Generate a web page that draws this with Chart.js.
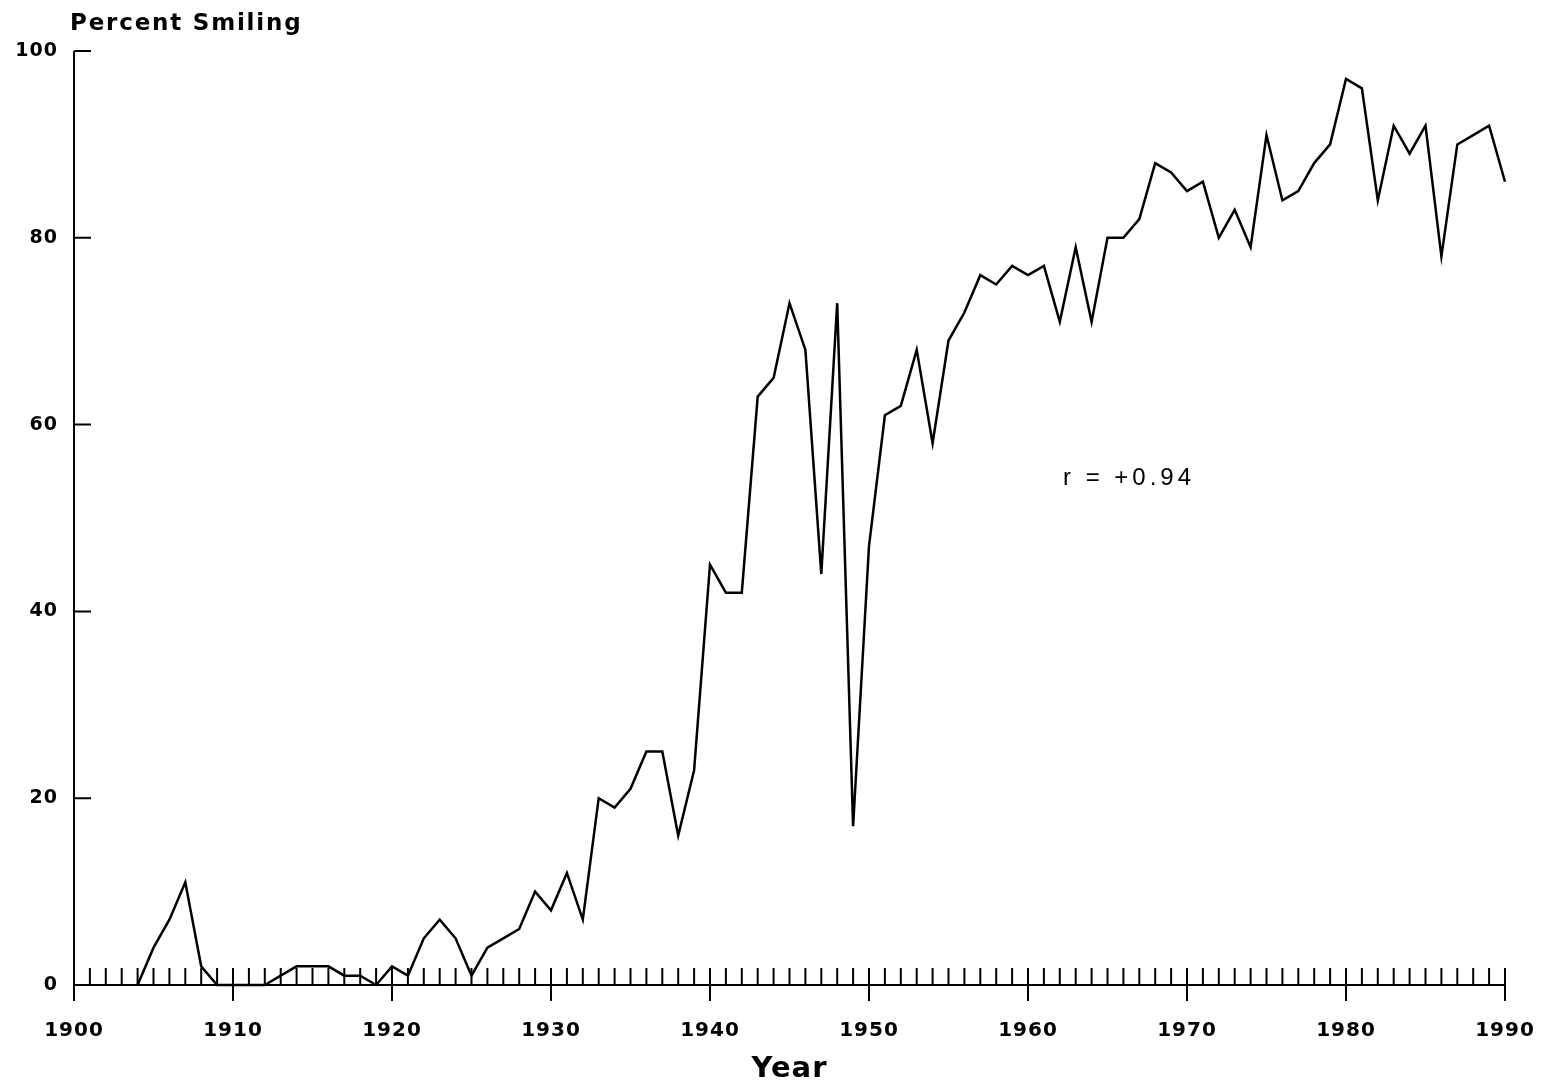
<!DOCTYPE html>
<html>
<head>
<meta charset="utf-8">
<title>Percent Smiling</title>
<script src="https://cdn.jsdelivr.net/npm/chart.js@4/dist/chart.umd.min.js"></script>
<style>
  html, body { margin: 0; padding: 0; background: #fff; }
  #wrap { width: 1549px; height: 1088px; }
</style>
</head>
<body>
<div id="wrap"><canvas id="smileChart" width="1549" height="1088"></canvas></div>
<script>
// ===== DATA =====
const years = [
  1904, 1905, 1906, 1907, 1908, 1909, 1910, 1911, 1912, 1913,
  1914, 1915, 1916, 1917, 1918, 1919, 1920, 1921, 1922, 1923,
  1924, 1925, 1926, 1927, 1928, 1929, 1930, 1931, 1932, 1933,
  1934, 1935, 1936, 1937, 1938, 1939, 1940, 1941, 1942, 1943,
  1944, 1945, 1946, 1947, 1948, 1949, 1950, 1951, 1952, 1953,
  1954, 1955, 1956, 1957, 1958, 1959, 1960, 1961, 1962, 1963,
  1964, 1965, 1966, 1967, 1968, 1969, 1970, 1971, 1972, 1973,
  1974, 1975, 1976, 1977, 1978, 1979, 1980, 1981, 1982, 1983,
  1984, 1985, 1986, 1987, 1988, 1989, 1990
];

const percentSmiling = [
  0, 4, 7, 11, 2, 0, 0, 0, 0, 1,
  2, 2, 2, 1, 1, 0, 2, 1, 5, 7,
  5, 1, 4, 5, 6, 10, 8, 12, 7, 20,
  19, 21, 25, 25, 16, 23, 45, 42, 42, 63,
  65, 73, 68, 44, 73, 17, 47, 61, 62, 68,
  58, 69, 72, 76, 75, 77, 76, 77, 71, 79,
  71, 80, 80, 82, 88, 87, 85, 86, 80, 83,
  79, 91, 84, 85, 88, 90, 97, 96, 84, 92,
  89, 92, 78, 90, 91, 92, 86
];

const xTicks = [1900, 1910, 1920, 1930, 1940, 1950, 1960, 1970, 1980, 1990];
const yTicks = [0, 20, 40, 60, 80, 100];

const yAxisTitle = "Percent Smiling";
const xAxisTitle = "Year";
const corrText = "r = +0.94";
const corrAt = { x: 1962.2, y: 53.5 };

const boldFont = "'DejaVu Sans', 'Liberation Sans', sans-serif";

// ===== AXES AND TICKS (drawn from the scales) =====
const axisPlugin = {
  id: "oldAxes",
  beforeDraw(chart) {
    chart.ctx.letterSpacing = "1px";
  },
  beforeDatasetsDraw(chart) {
    // y labels get a wider spacing than the x labels; both are already drawn here
    chart.ctx.letterSpacing = "0px";
  },
  afterDatasetsDraw(chart) {
    const ctx = chart.ctx;
    const xs = chart.scales.x;
    const ys = chart.scales.y;
    const x0 = xs.getPixelForValue(1900);
    const x1 = xs.getPixelForValue(1990);
    const y0 = ys.getPixelForValue(0);
    const y1 = ys.getPixelForValue(100);

    ctx.save();
    ctx.strokeStyle = "#000";
    ctx.lineWidth = 2;
    ctx.beginPath();
    // y axis
    ctx.moveTo(x0, y0 + 16);
    ctx.lineTo(x0, y1);
    // x axis
    ctx.moveTo(x0, y0);
    ctx.lineTo(x1, y0);

    // yearly ticks up, decade ticks down as well
    for (let yr = 1901; yr <= 1990; yr++) {
      const px = xs.getPixelForValue(yr);
      const major = yr % 10 === 0;
      ctx.moveTo(px, y0 - 17);
      ctx.lineTo(px, major ? y0 + 16 : y0);
    }

    // y ticks pointing right
    yTicks.forEach(v => {
      if (v === 0) return;
      const py = ys.getPixelForValue(v);
      ctx.moveTo(x0, py);
      ctx.lineTo(x0 + 17, py);
    });
    ctx.stroke();

    // titles
    ctx.fillStyle = "#000";
    ctx.letterSpacing = "1.8px";
    ctx.font = "bold 23px " + boldFont;
    ctx.textAlign = "left";
    ctx.textBaseline = "alphabetic";
    ctx.fillText(yAxisTitle, x0 - 4, 30);

    ctx.letterSpacing = "4px";
    ctx.font = "24px 'Liberation Sans', Arial, sans-serif";
    ctx.fillText(corrText, xs.getPixelForValue(corrAt.x), ys.getPixelForValue(corrAt.y));
    ctx.restore();
  }
};

// ===== CHART =====
const ctx = document.getElementById("smileChart").getContext("2d");

const smileChart = new Chart(ctx, {
  type: "line",
  data: {
    datasets: [{
      label: yAxisTitle,
      data: years.map((yr, i) => ({ x: yr, y: percentSmiling[i] })),
      borderColor: "#000",
      borderWidth: 2.5,
      pointRadius: 0,
      tension: 0,
      fill: false,
      clip: false
    }]
  },
  options: {
    responsive: false,
    animation: false,
    events: [],
    layout: { padding: { top: 51, right: 44, left: 0, bottom: 0 } },
    plugins: {
      legend: { display: false },
      tooltip: { enabled: false },
      title: { display: false }
    },
    scales: {
      x: {
        type: "linear",
        min: 1900,
        max: 1990,
        afterFit: s => { s.height = 103; s.paddingLeft = 0; s.paddingRight = 0; },
        afterBuildTicks: s => { s.ticks = xTicks.map(v => ({ value: v })); },
        grid: { display: false, drawTicks: false },
        border: { display: false },
        ticks: {
          autoSkip: false,
          maxRotation: 0,
          padding: 34,
          color: "#000",
          callback: v => String(v),
          font: { family: boldFont, size: 20, weight: "bold" }
        },
        title: {
          display: true,
          text: xAxisTitle,
          color: "#000",
          padding: { top: 0, bottom: 1 },
          font: { family: boldFont, size: 29, weight: "bold" }
        }
      },
      y: {
        min: 0,
        max: 100,
        afterFit: s => { s.width = 74; s.paddingTop = 0; s.paddingBottom = 0; },
        afterBuildTicks: s => { s.ticks = yTicks.map(v => ({ value: v })); },
        grid: { display: false, drawTicks: false },
        border: { display: false },
        ticks: {
          padding: 16,
          color: "#000",
          callback: v => String(v),
          font: { family: boldFont, size: 19, weight: "bold" }
        }
      }
    }
  },
  plugins: [axisPlugin]
});
</script>
</body>
</html>
